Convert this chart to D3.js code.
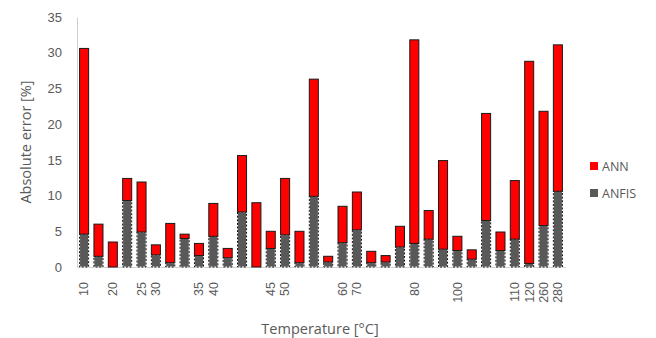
<!DOCTYPE html>
<html>
<head>
<meta charset="utf-8">
<script src="https://cdn.jsdelivr.net/npm/d3@7"></script>
<style>
  html, body { margin: 0; padding: 0; background: #fff; }
  svg { display: block; font-family: "Open Sans", "Noto Sans", sans-serif; }
</style>
</head>
<body>
<svg id="chart" width="656" height="338"></svg>
<script>
// Tick labels along the temperature axis (blank where no label is shown)
const tickLabels = ["10", "", "20", "", "25", "30", "", "", "35", "40", "", "", "", "45", "50", "", "",
                    "", "60", "70", "", "", "", "80", "", "", "100", "", "", "", "110", "120", "260", "280"];
// ANFIS absolute error [%]
const anfis = [4.6, 1.5, 0.0, 9.3, 4.9, 1.7, 0.6, 4.0, 1.6, 4.3, 1.3, 7.7, 0.0, 2.6, 4.5, 0.6, 9.9,
               0.7, 3.4, 5.2, 0.6, 0.7, 2.8, 3.3, 3.9, 2.5, 2.3, 1.1, 6.5, 2.3, 3.9, 0.5, 5.8, 10.6];
// ANN absolute error [%] (stacked on top of ANFIS)
const ann =   [26.0, 4.5, 3.5, 3.1, 7.0, 1.4, 5.5, 0.6, 1.7, 4.6, 1.3, 7.9, 9.0, 2.4, 7.9, 4.4, 16.4,
               0.8, 5.1, 5.3, 1.6, 0.9, 2.9, 28.5, 4.0, 12.4, 2.0, 1.3, 15.0, 2.6, 8.2, 28.3, 16.0, 20.5];
const seriesNames = ["ANN", "ANFIS"];
const yTicks = [0, 5, 10, 15, 20, 25, 30, 35];

const svg = d3.select("#chart");
const margin = { left: 77, right: 91, top: 17, bottom: 71 };
const W = 656, H = 338;

const idx = d3.range(anfis.length);
const x = d3.scaleBand().domain(idx).range([margin.left, W - margin.right]).paddingInner(0.37).paddingOuter(0.18);
const y = d3.scaleLinear().domain([0, 35]).range([H - margin.bottom, margin.top]);

const textColor = "#595959";

// y axis
const yAxis = svg.append("g").attr("transform", `translate(${margin.left},0)`)
  .call(d3.axisLeft(y).tickValues(yTicks).tickSize(0).tickPadding(15));
yAxis.select(".domain").attr("stroke", "#d0d0d0");
yAxis.selectAll("text").attr("fill", textColor).style("font-size", "13px");

// x axis
const xAxis = svg.append("g").attr("transform", `translate(0,${y(0)})`)
  .call(d3.axisBottom(x).tickFormat(i => tickLabels[i]).tickSize(0));
xAxis.select(".domain").attr("stroke", "#d0d0d0");
xAxis.selectAll("text")
  .attr("fill", textColor).style("font-size", "12.5px")
  .attr("transform", "rotate(-90)")
  .attr("text-anchor", "end")
  .attr("x", -15).attr("y", 0).attr("dy", "0.35em");

const bw = x.bandwidth();

// ANFIS segments (grey with dashed outline)
const gAnfis = svg.append("g");
gAnfis.selectAll("rect.fill").data(idx.filter(i => anfis[i] > 0)).join("rect")
  .attr("x", i => x(i)).attr("width", bw)
  .attr("y", i => y(anfis[i])).attr("height", i => y(0) - y(anfis[i]))
  .attr("fill", "#595959").attr("stroke", "#ffffff").attr("stroke-width", 1);
gAnfis.selectAll("rect.dash").data(idx.filter(i => anfis[i] > 0)).join("rect")
  .attr("x", i => x(i)).attr("width", bw)
  .attr("y", i => y(anfis[i])).attr("height", i => y(0) - y(anfis[i]))
  .attr("fill", "none").attr("stroke", "#111").attr("stroke-width", 1)
  .attr("stroke-dasharray", "2,1.6");

// ANN segments (red, stacked)
svg.append("g").selectAll("rect").data(idx).join("rect")
  .attr("x", i => x(i)).attr("width", bw)
  .attr("y", i => y(anfis[i] + ann[i])).attr("height", i => y(anfis[i]) - y(anfis[i] + ann[i]))
  .attr("fill", "#ff0000").attr("stroke", "#1a1a1a").attr("stroke-width", 1);

// axis titles
svg.append("text")
  .attr("transform", `translate(31,${(y(0) + y(35)) / 2}) rotate(-90)`)
  .attr("text-anchor", "middle").attr("fill", textColor)
  .style("font-size", "14.5px").text("Absolute error [%]");
svg.append("text")
  .attr("x", 320).attr("y", 334).attr("text-anchor", "middle").attr("fill", textColor)
  .style("font-size", "14.5px").text("Temperature [°C]");

// legend
const legendColors = { "ANN": "#ff0000", "ANFIS": "#595959" };
const lg = svg.append("g").attr("transform", "translate(590,162)");
seriesNames.forEach((name, k) => {
  const row = lg.append("g").attr("transform", `translate(0,${k * 27})`);
  row.append("rect").attr("width", 8).attr("height", 8).attr("fill", legendColors[name]);
  row.append("text").attr("x", 12).attr("y", 8.5).attr("fill", textColor)
    .style("font-size", "12.5px").text(name);
});
</script>
</body>
</html>
